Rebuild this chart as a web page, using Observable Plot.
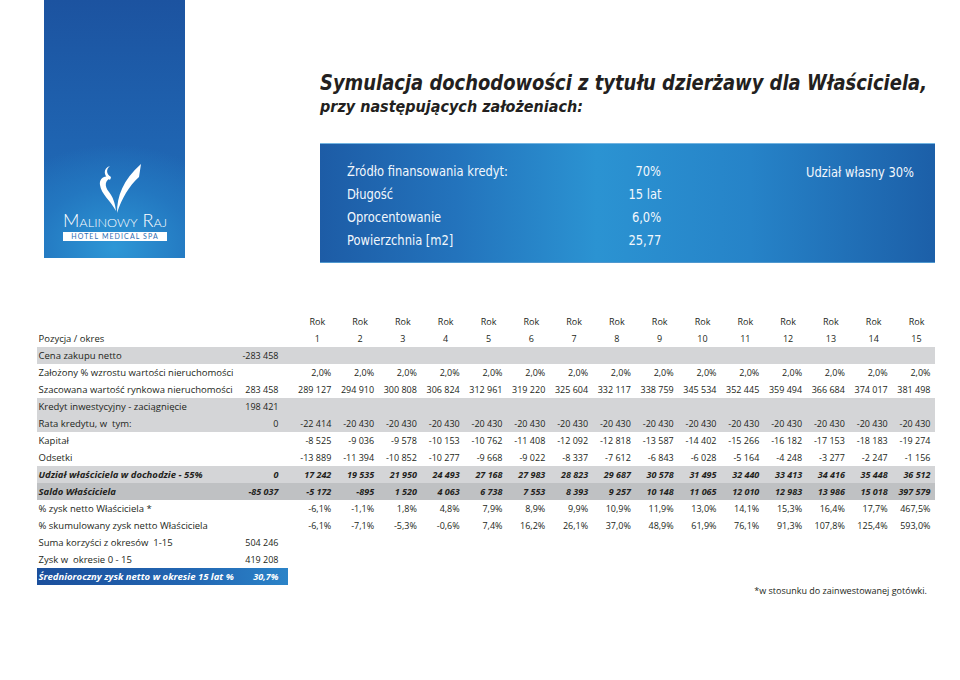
<!DOCTYPE html>
<html><head><meta charset="utf-8">
<script src="https://cdn.jsdelivr.net/npm/d3@7"></script>
<script src="https://cdn.jsdelivr.net/npm/@observablehq/plot@0.6"></script>
<style>
body{margin:0;background:#fff;}
#page{position:relative;width:960px;height:680px;overflow:hidden;font-family:"Open Sans",sans-serif;color:#231f20;}
.abs{position:absolute;white-space:nowrap;}
#logo{left:44px;top:0;width:141px;height:258px;
 background:radial-gradient(ellipse 95% 40% at 50% 96%, #2d97d6 0%, #2377c0 60%, rgba(35,119,192,0) 100%), linear-gradient(#1c53a0,#1f64b1 55%,#2170ba);}
.cond{font-family:"DejaVu Sans Condensed","Liberation Sans Narrow",sans-serif;}
#title{left:320px;top:70px;font-weight:bold;font-style:italic;font-size:22px;line-height:26px;color:#231f20;transform-origin:0 0;}
#subtitle{left:320px;top:97px;font-weight:bold;font-style:italic;font-size:16.5px;line-height:20px;color:#231f20;transform-origin:0 0;}
#box{left:320px;top:143px;width:615px;height:118px;
 background:linear-gradient(90deg,#1d5ca6 0%,#2373bc 22%,#2b93d2 45%,#2683c8 70%,#1c5fa8 100%);
 border-top:1px solid #72b4e1;border-bottom:1px solid #4f98cf;}
.bt{font-size:14.5px;line-height:18px;color:#f2f7fc;font-weight:300;}
#foot{left:700px;width:227px;top:584px;text-align:right;font-size:9px;line-height:14px;}
#brand{left:63px;top:211px;color:#fff;font-family:"Lato",sans-serif;font-weight:300;font-variant:small-caps;font-size:17px;line-height:20px;transform-origin:0 0;}
#spa{left:63px;top:232px;width:104px;height:9px;background:#fff;color:#2a6db3;font-family:"Lato",sans-serif;font-size:7px;line-height:9.5px;text-align:center;letter-spacing:1.1px;}
#chart{left:0;top:295px;}
</style></head>
<body>
<div id="page">
 <div id="logo" class="abs"></div>
 <svg class="abs" style="left:0;top:0" width="200" height="260" viewBox="0 0 200 260">
  <path d="M117 213 C117 196 123 180 141 164 L139 177 C129 186 122 198 117 213 Z" fill="#fff"/>
  <path d="M116 211 C111 201 101 194 100 185 C99 178 105 174 111 178 C105 180 104 186 109 192 C113 197 115 203 116 211 Z" fill="#fff"/>
  <path d="M110 180 C103 176 103 168 110 166 C106 169 106 174 111 177 Z" fill="#fff"/>
 </svg>
 <div id="brand" class="abs">Malinowy Raj</div>
 <div id="spa" class="abs">HOTEL MEDICAL SPA</div>
 <div id="title" class="abs cond">Symulacja dochodowości z tytułu dzierżawy dla Właściciela,</div>
 <div id="subtitle" class="abs cond">przy następujących założeniach:</div>
 <div id="box" class="abs"></div>
 <div id="boxtext"></div>
 <div id="chart" class="abs"></div>
 <div id="foot" class="abs">*w stosunku do zainwestowanej gotówki.</div>
</div>
<script>
// ---------- assumptions (header box) ----------
const assumptionLabels = ["Źródło finansowania kredyt:", "Długość", "Oprocentowanie", "Powierzchnia [m2]"];
const assumptionValues = ["70%", "15 lat", "6,0%", "25,77"];
const ownShareText = "Udział własny 30%";

// ---------- table data ----------
const yearLabels = [1,2,3,4,5,6,7,8,9,10,11,12,13,14,15];
const rowLabels = [
  "Pozycja / okres",
  "Cena zakupu netto",
  "Założony % wzrostu wartości nieruchomości",
  "Szacowana wartość rynkowa nieruchomości",
  "Kredyt inwestycyjny - zaciągnięcie",
  "Rata kredytu, w  tym:",
  "Kapitał",
  "Odsetki",
  "Udział właściciela w dochodzie - 55%",
  "Saldo Właściciela",
  "% zysk netto Właściciela *",
  "% skumulowany zysk netto Właściciela",
  "Suma korzyści z okresów  1-15",
  "Zysk w  okresie 0 - 15",
  "Średnioroczny zysk netto w okresie 15 lat %"
];
const cenaZakupu0 = -283458;
const wzrost = [2.0,2.0,2.0,2.0,2.0,2.0,2.0,2.0,2.0,2.0,2.0,2.0,2.0,2.0,2.0];
const wartosc0 = 283458;
const wartosc = [289127,294910,300808,306824,312961,319220,325604,332117,338759,345534,352445,359494,366684,374017,381498];
const kredyt0 = 198421;
const rata0 = 0;
const rata = [-22414,-20430,-20430,-20430,-20430,-20430,-20430,-20430,-20430,-20430,-20430,-20430,-20430,-20430,-20430];
const kapital = [-8525,-9036,-9578,-10153,-10762,-11408,-12092,-12818,-13587,-14402,-15266,-16182,-17153,-18183,-19274];
const odsetki = [-13889,-11394,-10852,-10277,-9668,-9022,-8337,-7612,-6843,-6028,-5164,-4248,-3277,-2247,-1156];
const udzial0 = 0;
const udzial = [17242,19535,21950,24493,27168,27983,28823,29687,30578,31495,32440,33413,34416,35448,36512];
const saldo0 = -85037;
const saldo = [-5172,-895,1520,4063,6738,7553,8393,9257,10148,11065,12010,12983,13986,15018,397579];
const zyskPct = [-6.1,-1.1,1.8,4.8,7.9,8.9,9.9,10.9,11.9,13.0,14.1,15.3,16.4,17.7,467.5];
const skumPct = [-6.1,-7.1,-5.3,-0.6,7.4,16.2,26.1,37.0,48.9,61.9,76.1,91.3,107.8,125.4,593.0];
const sumaKorzysci = 504246;
const zyskOkres = 419208;
const srednioroczny = 30.7;

// ---------- fit helper (condensed look) ----------
function fitX(el, w, origin) {
  const r = el.getBoundingClientRect().width;
  el.style.transformOrigin = origin || "0 0";
  el.style.transform = `scaleX(${w / r})`;
  return w / r;
}
fitX(document.getElementById("title"), 607);
fitX(document.getElementById("subtitle"), 263);
fitX(document.getElementById("brand"), 104);

// ---------- header box text ----------
const bt = document.getElementById("boxtext");
const rowCenters = [171, 194, 217, 240];
const boxEls = [];
assumptionLabels.forEach((t, i) => {
  const a = document.createElement("div");
  a.className = "abs bt cond"; a.textContent = t;
  a.style.left = "347px"; a.style.top = (rowCenters[i] - 9) + "px";
  bt.appendChild(a); boxEls.push([a, "0 0"]);
  const b = document.createElement("div");
  b.className = "abs bt cond"; b.textContent = assumptionValues[i];
  b.style.right = (960 - 661) + "px"; b.style.top = (rowCenters[i] - 9) + "px";
  bt.appendChild(b); boxEls.push([b, "100% 0"]);
});
const own = document.createElement("div");
own.className = "abs bt cond"; own.textContent = ownShareText;
own.style.left = "806px"; own.style.top = "163px";
bt.appendChild(own); boxEls.push([own, "0 0"]);
const k = 161 / boxEls[0][0].getBoundingClientRect().width;
boxEls.forEach(([el, o]) => { el.style.transformOrigin = o; el.style.transform = `scaleX(${k})`; });

// ---------- formatting ----------
const loc = d3.formatLocale({decimal: ",", thousands: " ", grouping: [3], currency: ["", ""], minus: "-"});
const fN = loc.format(",d");
const f1 = loc.format(".1f");
const fP = v => f1(v) + "%";

const L = rowLabels;
const valueRows = [
  {row: L[1], c0: cenaZakupu0, vals: null, fmt: fN},
  {row: L[2], c0: null, vals: wzrost, fmt: fP},
  {row: L[3], c0: wartosc0, vals: wartosc, fmt: fN},
  {row: L[4], c0: kredyt0, vals: null, fmt: fN},
  {row: L[5], c0: rata0, vals: rata, fmt: fN},
  {row: L[6], c0: null, vals: kapital, fmt: fN},
  {row: L[7], c0: null, vals: odsetki, fmt: fN},
  {row: L[8], c0: udzial0, vals: udzial, fmt: fN},
  {row: L[9], c0: saldo0, vals: saldo, fmt: fN},
  {row: L[10], c0: null, vals: zyskPct, fmt: fP},
  {row: L[11], c0: null, vals: skumPct, fmt: fP},
  {row: L[12], c0: sumaKorzysci, vals: null, fmt: fN},
  {row: L[13], c0: zyskOkres, vals: null, fmt: fN},
  {row: L[14], c0: srednioroczny, vals: null, fmt: fP}
];
const cells = [];
for (const r of valueRows) {
  if (r.c0 !== null) cells.push({row: r.row, col: 0, text: r.fmt(r.c0)});
  if (r.vals) r.vals.forEach((v, i) => cells.push({row: r.row, col: yearLabels[i], text: r.fmt(v)}));
}
const boldRows = new Set([L[8], L[9]]);
const whiteRows = new Set([L[14]]);
const styleOf = r => whiteRows.has(r) ? "white" : boldRows.has(r) ? "bold" : "normal";

const greyRows = [L[1], L[4], L[5], L[8]];
const darkRows = [L[9]];
const blueRows = [L[14]];

// layout constants (pixels of the column scale)
const X_LEFT = -(288 - 37) / ((930 - 288) / 15);
const X_RIGHT = 15 + 5 / ((930 - 288) / 15);
const ink = "#231f20";

function textSet(style, extra) {
  const base = {fontSize: 9, fill: ink};
  if (style === "bold") Object.assign(base, {fontWeight: "bold", fontStyle: "italic"});
  if (style === "white") Object.assign(base, {fontWeight: "bold", fontStyle: "italic", fill: "#fff"});
  return Object.assign(base, extra);
}

const marks = [
  Plot.barX(greyRows, {y: d => d, x1: () => X_LEFT, x2: () => X_RIGHT, fill: "#d4d5d7"}),
  Plot.barX(darkRows, {y: d => d, x1: () => X_LEFT, x2: () => X_RIGHT, fill: "#bfc1c3"}),
  Plot.barX(blueRows, {y: d => d, x1: () => X_LEFT, x2: () => 0, fill: "url(#blueBand)"}),
  Plot.text(yearLabels, {x: d => d, y: () => "hdr", text: () => "Rok", dx: -14, textAnchor: "middle", fontSize: 9, fill: ink}),
  Plot.text(yearLabels, {x: d => d, y: () => L[0], text: d => String(d), dx: -14, textAnchor: "middle", fontSize: 9, fill: ink})
];
for (const st of ["normal", "bold", "white"]) {
  const labs = rowLabels.filter(r => styleOf(r) === st);
  marks.push(Plot.text(labs, textSet(st, {y: d => d, text: d => d, frameAnchor: "left", textAnchor: "start", fontSize: 9.5})));
  const c0 = cells.filter(c => c.col === 0 && styleOf(c.row) === st);
  marks.push(Plot.text(c0, textSet(st, {x: "col", y: "row", text: "text", textAnchor: "end", dx: -10})));
  const cy = cells.filter(c => c.col !== 0 && styleOf(c.row) === st);
  marks.push(Plot.text(cy, textSet(st, {x: "col", y: "row", text: "text", textAnchor: "end"})));
}

const chart = Plot.plot({
  width: 960, height: 385,
  marginLeft: 38, marginRight: 25, marginTop: 0, marginBottom: 0,
  x: {type: "linear", domain: [0, 15], range: [288, 930], axis: null},
  y: {type: "band", domain: ["hdr", ...rowLabels], range: [14.25, 294.25], padding: 0, axis: null},
  style: {fontFamily: "'Open Sans', sans-serif", background: "transparent", overflow: "visible"},
  marks
});
chart.insertAdjacentHTML("afterbegin",
  '<defs><linearGradient id="blueBand" x1="0" x2="1" y1="0" y2="0">' +
  '<stop offset="0" stop-color="#1b4f9c"/><stop offset="0.6" stop-color="#2266b2"/><stop offset="1" stop-color="#2b83c8"/>' +
  '</linearGradient></defs>');
document.getElementById("chart").appendChild(chart);
</script>
</body></html>
